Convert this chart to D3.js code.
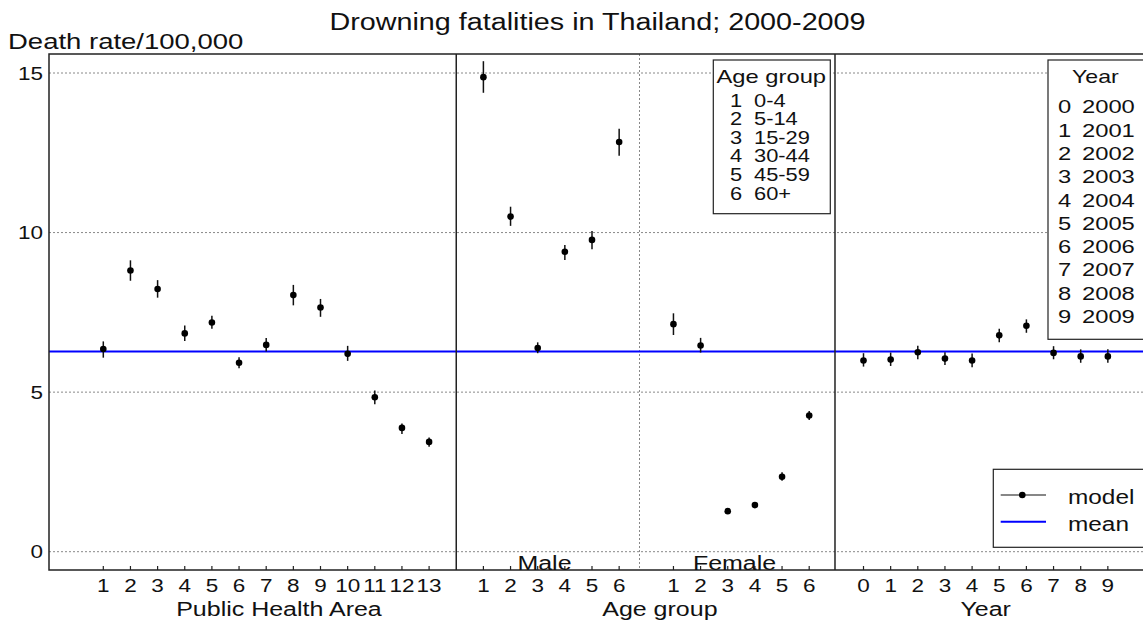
<!DOCTYPE html>
<html><head><meta charset="utf-8">
<script src="https://cdn.jsdelivr.net/npm/d3@7"></script>
<style>body{margin:0;background:#fff}svg{display:block;font-family:"Liberation Sans",Arial,sans-serif}</style>
</head><body><svg id="c" width="1143" height="621"></svg>
<script>
// ---- data ----
const phaLabels = ["1","2","3","4","5","6","7","8","9","10","11","12","13"];
const phaMean   = [6.35,8.81,8.23,6.84,7.18,5.92,6.48,8.04,7.65,6.20,4.84,3.88,3.44];
const phaLow    = [6.08,8.49,7.96,6.60,6.99,5.75,6.27,7.72,7.36,5.98,4.62,3.69,3.29];
const phaHigh   = [6.59,9.13,8.51,7.09,7.39,6.09,6.70,8.36,7.92,6.45,5.05,4.02,3.58];

const ageLabels = ["1","2","3","4","5","6"];
const maleMean  = [14.87,10.50,6.38,9.40,9.77,12.84];
const maleLow   = [14.38,10.21,6.22,9.14,9.48,12.41];
const maleHigh  = [15.37,10.81,6.56,9.61,10.05,13.25];
const femMean   = [7.13,6.46,1.27,1.46,2.35,4.27];
const femLow    = [6.79,6.24,1.22,1.41,2.22,4.13];
const femHigh   = [7.47,6.70,1.32,1.51,2.49,4.41];

const yearLabels = ["0","1","2","3","4","5","6","7","8","9"];
const yearMean  = [5.99,6.02,6.25,6.05,5.99,6.78,7.08,6.23,6.12,6.12];
const yearLow   = [5.80,5.82,6.03,5.85,5.78,6.56,6.86,6.03,5.92,5.92];
const yearHigh  = [6.22,6.24,6.45,6.25,6.21,6.99,7.28,6.44,6.34,6.34];

const overallMean = 6.27;
const yTicks = [0,5,10,15];
const ageGroups = ["0-4","5-14","15-29","30-44","45-59","60+"];
const years = ["2000","2001","2002","2003","2004","2005","2006","2007","2008","2009"];

// ---- layout ----
const svg = d3.select("#c");
const SX = 1.25; // horizontal stretch of the reference's lettering
const L = 49, T = 54, B = 570;
const x = d3.scaleLinear().domain([-1, 38]).range([49, 49 + 39*27.15]);
const y = d3.scaleLinear().domain([0, 15]).range([551.7, 73]);
const R = x(40.5);

function txt(g, tx, ty, s, size, anchor) {
  return g.append("text")
    .attr("transform", `translate(${tx},${ty}) scale(${SX},1)`)
    .attr("text-anchor", anchor || "start")
    .attr("font-size", size).attr("fill", "#111").text(s);
}

// positions
const pts = [];
phaMean.forEach((v,i)=>pts.push({p:i+1, m:v, lo:phaLow[i], hi:phaHigh[i], lab:phaLabels[i]}));
maleMean.forEach((v,i)=>pts.push({p:15+i, m:v, lo:maleLow[i], hi:maleHigh[i], lab:ageLabels[i]}));
femMean.forEach((v,i)=>pts.push({p:22+i, m:v, lo:femLow[i], hi:femHigh[i], lab:ageLabels[i]}));
yearMean.forEach((v,i)=>pts.push({p:29+i, m:v, lo:yearLow[i], hi:yearHigh[i], lab:yearLabels[i]}));

// grid
svg.append("g").selectAll("line").data(yTicks).join("line")
  .attr("x1", L).attr("x2", R).attr("y1", d=>y(d)).attr("y2", d=>y(d))
  .attr("stroke","#888").attr("stroke-width",1).attr("stroke-dasharray","2,2");
svg.append("line").attr("x1", x(20.75)).attr("x2", x(20.75)).attr("y1", T).attr("y2", B)
  .attr("stroke","#888").attr("stroke-width",1).attr("stroke-dasharray","2,2");

// mean line
svg.append("line").attr("x1", L).attr("x2", R).attr("y1", y(overallMean)).attr("y2", y(overallMean))
  .attr("stroke","#0000ff").attr("stroke-width",2);

// frame
svg.append("path").attr("d", `M${R},${T}H${L}V${B}H${R}`).attr("fill","none").attr("stroke","#222").attr("stroke-width",1.5);
[14, 27.95].forEach(p=>svg.append("line").attr("x1",x(p)).attr("x2",x(p)).attr("y1",T).attr("y2",B)
  .attr("stroke","#222").attr("stroke-width",1.5));

// y tick labels
const yl = svg.append("g");
yTicks.forEach(d=>txt(yl, 43, y(d)+6.5, d, 18, "end"));

// x ticks
svg.append("g").selectAll("line").data(pts).join("line")
  .attr("x1", d=>x(d.p)).attr("x2", d=>x(d.p)).attr("y1", B).attr("y2", B-4)
  .attr("stroke","#222").attr("stroke-width",1.2);
const xl = svg.append("g");
pts.forEach(d=>txt(xl, x(d.p), 592, d.lab, 18, "middle"));

// error bars + points
svg.append("g").selectAll("line").data(pts).join("line")
  .attr("x1", d=>x(d.p)).attr("x2", d=>x(d.p)).attr("y1", d=>y(d.lo)).attr("y2", d=>y(d.hi))
  .attr("stroke","#111").attr("stroke-width",1.5);
svg.append("g").selectAll("circle").data(pts).join("circle")
  .attr("cx", d=>x(d.p)).attr("cy", d=>y(d.m)).attr("r",3.3).attr("fill","#000");

// texts
const tg = svg.append("g");
txt(tg, 597.5, 30, "Drowning fatalities in Thailand; 2000-2009", 23, "middle");
txt(tg, 8, 48.5, "Death rate/100,000", 22);
txt(tg, x(7.47), 616, "Public Health Area", 20, "middle");
txt(tg, x(21.5), 616, "Age group", 20, "middle");
txt(tg, x(33.5), 616, "Year", 20, "middle");
txt(tg, x(17.25), 570, "Male", 20, "middle");
txt(tg, x(24.25), 570, "Female", 20, "middle");

// Age group legend
const ag = svg.append("g");
ag.append("rect").attr("x",713.3).attr("y",60).attr("width",117).attr("height",153.7).attr("fill","#fff").attr("stroke","#222").attr("stroke-width",1.2);
txt(ag, 716.5, 83, "Age group", 19);
ageGroups.forEach((d,i)=>{
  txt(ag, 736, 106.5+i*18.66, String(i+1), 17.5, "middle");
  txt(ag, 754, 106.5+i*18.66, d, 17.5);
});

// Year legend
const yg = svg.append("g");
yg.append("rect").attr("x",1048).attr("y",60).attr("width",110).attr("height",279.3).attr("fill","#fff").attr("stroke","#222").attr("stroke-width",1.2);
txt(yg, 1072, 83, "Year", 18.5);
years.forEach((d,i)=>{
  txt(yg, 1058, 113.3+i*23.3, String(i), 19);
  txt(yg, 1082, 113.3+i*23.3, d, 19);
});

// model/mean legend
const mg = svg.append("g");
mg.append("rect").attr("x",993.3).attr("y",469.3).attr("width",170).attr("height",78).attr("fill","#fff").attr("stroke","#222").attr("stroke-width",1.2);
mg.append("line").attr("x1",1000.7).attr("x2",1046).attr("y1",495).attr("y2",495).attr("stroke","#111").attr("stroke-width",1.2);
mg.append("circle").attr("cx",1022.3).attr("cy",495).attr("r",3.3).attr("fill","#000");
mg.append("line").attr("x1",1000.7).attr("x2",1046).attr("y1",521.7).attr("y2",521.7).attr("stroke","#0000ff").attr("stroke-width",2);
txt(mg, 1068, 504, "model", 19.5);
txt(mg, 1068, 530.5, "mean", 19.5);
</script></body></html>
